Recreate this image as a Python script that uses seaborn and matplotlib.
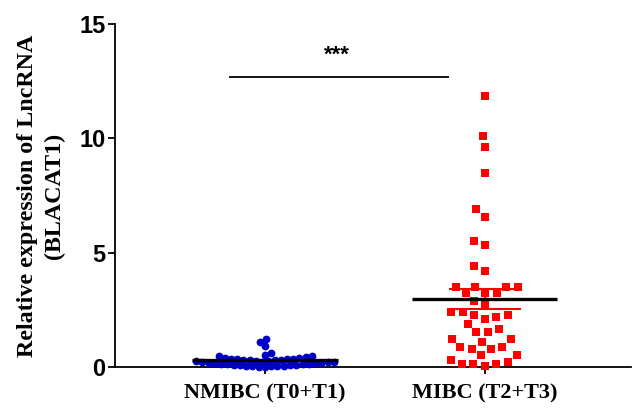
import numpy as np
import pandas as pd
import matplotlib
matplotlib.use("Agg")
import matplotlib.pyplot as plt
from matplotlib.collections import PathCollection
import seaborn as sns

# ---- data ----
categories = ["NMIBC (T0+T1)", "MIBC (T2+T3)"]
nmibc_values = [1.22, 1.10, 0.92, 0.61, 0.52, 0.47, 0.46,
                0.42, 0.40, 0.38, 0.37, 0.36,
                0.34, 0.33, 0.32, 0.31, 0.30, 0.29,
                0.27, 0.26, 0.25, 0.24, 0.23, 0.22,
                0.20, 0.19, 0.18, 0.17, 0.16, 0.15,
                0.13, 0.12, 0.11, 0.10, 0.09, 0.08,
                0.07, 0.06, 0.05, 0.05, 0.04,
                0.03, 0.02, 0.01]
mibc_values = [11.86, 10.12, 9.64, 8.50, 6.89, 6.58, 5.49, 5.33, 4.40, 4.19,
               3.50, 3.50, 3.50, 3.50, 3.22, 3.22, 3.22, 2.88, 2.70,
               2.40, 2.40, 2.28, 2.28, 2.19, 2.09, 1.87, 1.66, 1.53, 1.53,
               1.22, 1.22, 1.10, 0.87, 0.88, 0.78, 0.80, 0.52, 0.54,
               0.22, 0.31, 0.13, 0.06, 0.13, 0.13]
colors = ["#0000CC", "#FF0000"]
markers = ["o", "s"]
yticks = [0, 5, 10, 15]
sig_label = "***"
sig_height = 12.7

df = pd.concat([
    pd.DataFrame({"group": categories[0], "value": nmibc_values}),
    pd.DataFrame({"group": categories[1], "value": mibc_values}),
], ignore_index=True)

sns.set_style("ticks")
plt.rcParams["text.color"] = "black"
plt.rcParams["axes.labelcolor"] = "black"
plt.rcParams["xtick.color"] = "black"
plt.rcParams["ytick.color"] = "black"

fig = plt.figure(figsize=(6.33, 4.09), dpi=100)
ax = fig.add_axes([0.1817, 0.1027, 0.815, 0.8386])

layout_sizes = [4.3, 8.0]   # marker sizes used for the swarm layout (GraphPad-like spacing)
draw_size = 5.6             # marker size actually drawn

for i, cat in enumerate(categories):
    sub = df[df["group"] == cat]
    sns.swarmplot(data=sub, x="group", y="value", order=categories,
                  color=colors[i], marker=markers[i], size=layout_sizes[i],
                  linewidth=0, ax=ax, zorder=3, clip_on=False)

# mean and SEM
groups = [nmibc_values, mibc_values]
for i, vals in enumerate(groups):
    v = np.asarray(vals)
    m = v.mean()
    sem = v.std(ddof=1) / np.sqrt(len(v))
    ax.vlines(i, m - sem, m + sem, color=colors[i], lw=1.5, zorder=2)
    ax.hlines([m - sem, m + sem], i - 0.165, i + 0.165, color=colors[i], lw=1.5, zorder=2)
    ax.hlines(m, i - 0.33, i + 0.33, color="black", lw=2.4, zorder=4)

# significance
ax.hlines(sig_height, -0.164, 0.836, color="black", lw=1.3)
ax.text(0.327, sig_height + 0.95, sig_label, ha="center", va="center",
        fontsize=16, fontweight="bold", family="Liberation Sans", color="black")

ax.set_xlim(-0.682, 1.664)
ax.set_ylim(0, 15)
ax.set_yticks(yticks)
ax.set_yticklabels([str(t) for t in yticks], fontsize=17, fontweight="bold",
                   family="Liberation Sans", color="black")
ax.set_xticks(range(len(categories)))
ax.set_xticklabels(categories, fontsize=16, fontweight="bold",
                   family="Liberation Serif", color="black")
ax.set_xlabel("")
ax.set_ylabel("Relative expression of LncRNA\n(BLACAT1)", fontsize=17.3,
              fontweight="bold", family="Liberation Serif", labelpad=10,
              linespacing=1.4, color="black")
ax.tick_params(axis="both", width=1.3, length=5, color="black", pad=2)
ax.tick_params(axis="x", pad=7)
for s in ["top", "right"]:
    ax.spines[s].set_visible(False)
for s in ["left", "bottom"]:
    ax.spines[s].set_linewidth(1.3)
    ax.spines[s].set_color("black")

# compute the swarm layout with final limits, then freeze it and set drawn marker size
fig.canvas.draw()
for coll in ax.collections:
    if isinstance(coll, PathCollection) and "draw" in coll.__dict__:
        del coll.draw
        coll.set_sizes([draw_size ** 2])

fig.savefig("out.png", dpi=100)
